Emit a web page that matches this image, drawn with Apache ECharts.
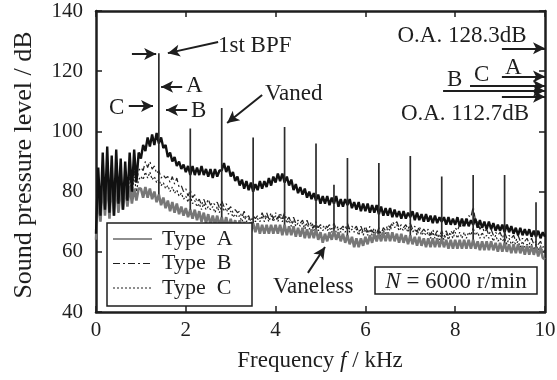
<!DOCTYPE html>
<html>
<head>
<meta charset="utf-8">
<script src="https://cdn.jsdelivr.net/npm/echarts@6/dist/echarts.min.js"></script>
<style>
  html, body { margin: 0; padding: 0; background: #fff; }
  #chart { width: 557px; height: 380px; }
</style>
</head>
<body>
<div id="chart"></div>
<script>
// spectra sampled every 0.05 kHz, 0 .. 10 kHz (dB)
const freqStep = 0.05;

const typeA = [
  66, 88, 72, 93, 74, 95, 73, 92, 72, 94, 76, 91, 74, 90, 77, 93, 80, 94, 83, 93,
  91, 95.5, 93.5, 98, 95, 99, 95.5, 99.5, 96, 98, 94.5, 95.5, 91.5, 93, 90, 91.5, 88.5, 90, 87.5, 89,
  86.5, 88.5, 85.5, 88.5, 85.5, 88, 85.5, 88.5, 85.5, 87.5, 85, 87.5, 84.5, 87.5, 85, 87, 87, 89.5, 86.5, 88.5,
  85, 86.5, 83.5, 85, 82, 84, 81, 83.5, 80.5, 83, 80, 82.5, 80.5, 83.5, 81, 83.5, 81.5, 84.5, 82, 85,
  83, 86, 83.5, 86, 83, 85, 82, 84, 80.5, 82.5, 79.5, 81.5, 79, 81, 78, 80, 77.5, 79.5, 77, 79,
  76, 78.5, 76, 78.5, 75.5, 78, 76, 78.5, 75, 77.5, 75, 77.5, 75.5, 77.5, 74.5, 76.5, 74, 76.5, 73.5, 76,
  73.5, 76, 73, 75.5, 73, 75.5, 72.5, 75, 72, 74.5, 72, 74.5, 71.5, 74, 71.5, 73.5, 71, 73.5, 71, 73,
  71.5, 73.5, 70.5, 73, 70.5, 72.5, 70, 72.5, 70, 72, 69.5, 72, 69.5, 71.5, 70, 71.5, 69, 71.5, 69, 71,
  69, 71.5, 68.5, 71, 68.5, 71, 68.5, 70.5, 69, 71, 68, 70.5, 68, 70, 67.5, 70, 67.5, 69.5, 67, 69,
  67, 69, 66.5, 69, 66.5, 68.5, 66, 68, 65.5, 68, 65.5, 67.5, 65.5, 67.5, 65, 67, 65, 67, 64.5, 66.5,
  65
];

const typeB = [
  68, 84, 72, 89, 75, 90, 74, 88, 76, 87, 75, 86, 77, 87, 79, 88, 81, 87, 83, 87,
  88, 87, 90, 88, 90, 87.5, 88.5, 86, 87, 84.5, 85.5, 84.5, 85, 83, 85, 82.5, 84.5, 81.5, 82, 80,
  81, 78.5, 80.5, 78, 79, 76.5, 77.5, 75.5, 77.5, 75.5, 77.5, 75.5, 76.5, 75.5, 76.5, 74.5, 77, 75, 76, 74,
  75, 73, 74, 73, 73.5, 71.5, 73.5, 71, 72, 70, 72, 71, 72, 71, 73, 71, 73, 71, 73, 71,
  73, 71, 73, 71, 73, 70.5, 71.5, 69.5, 71.5, 69.5, 70.5, 69.5, 70.5, 68.5, 70.5, 68.5, 70, 68, 70, 68,
  69, 68, 69, 68, 69, 67.5, 69.5, 67.5, 68.5, 67.5, 68.5, 67.5, 69.5, 67.5, 68.5, 67.5, 68.5, 66.5, 68.5, 66.5,
  68.5, 66.5, 68.5, 66.5, 68, 66, 68, 66, 68, 67, 69, 68, 70, 69, 70, 68, 69, 68, 69, 67.5,
  69.5, 67.5, 68.5, 66.5, 68.5, 66.5, 67.5, 66.5, 67.5, 65.5, 67.5, 65.5, 67, 65, 67, 65, 67, 65, 67, 66,
  68, 67, 69, 68, 70, 69.5, 72, 71.5, 75, 70.5, 70, 67.5, 68.5, 66.5, 67.5, 65.5, 67.5, 65.5, 66.5, 65.5,
  66.5, 64.5, 66.5, 64.5, 65.5, 64.5, 65.5, 63.5, 65.5, 63.5, 64.5, 63.5, 64.5, 62.5, 64.5, 62.5, 63.5, 62.5, 63.5, 61.5,
  62
];

const typeC = [
  66, 81, 70, 86, 73, 87, 72, 85, 74, 84, 73, 83, 75, 84, 77, 85, 79, 85, 80, 84,
  85, 84, 86.5, 84.5, 86.5, 84, 85, 83, 84, 82, 83, 81, 82, 80, 81.5, 79.5, 80.5, 78.5, 79.5, 77.5,
  78.5, 76.5, 78.5, 76, 77, 75, 76, 74, 76, 74, 75, 74, 75, 73, 75, 73, 75.5, 73.5, 74.5, 72.5,
  73.5, 71.5, 72.5, 71.5, 72, 70, 72, 70, 71, 69, 71, 70, 71, 70, 72, 70, 72, 70, 72, 70,
  72, 70, 72, 70, 72, 69.5, 70.5, 68.5, 70.5, 68.5, 69.5, 68.5, 69.5, 67.5, 69.5, 67.5, 69, 67, 69, 67,
  68, 67, 68, 67, 68, 66.5, 68.5, 66.5, 67.5, 66.5, 67.5, 66.5, 68.5, 66.5, 67.5, 66.5, 67.5, 65.5, 67.5, 65.5,
  67.5, 65.5, 67.5, 65.5, 67, 65, 67, 65, 67, 66, 68, 67, 69, 68, 69, 67, 68, 67, 68, 66.5,
  68.5, 66.5, 67.5, 65.5, 67.5, 65.5, 66.5, 65.5, 66.5, 64.5, 66.5, 64.5, 66, 64, 66, 64, 66, 64, 66, 64.5,
  66.5, 64.5, 66.5, 64.5, 66.5, 64.5, 66.5, 65.5, 68, 65.5, 66.5, 64.5, 66.5, 64.5, 65.5, 64.5, 65.5, 63.5, 65.5, 63.5,
  64.5, 63.5, 64.5, 62.5, 64.5, 62.5, 63.5, 62.5, 63.5, 61.5, 63.5, 61.5, 62.5, 61.5, 62.5, 60.5, 62.5, 60.5, 62, 60,
  60.5
];

const vaneless = [
  64, 80, 70, 84, 72, 85, 71, 84, 72, 83, 73, 82, 74, 82, 75, 82, 76, 81, 77, 81,
  81, 78, 81.5, 78, 81, 77.5, 80, 76.5, 79, 75.5, 78, 74.5, 77, 73.5, 76.5, 73, 76, 72.5, 75, 72,
  74.5, 71.5, 74, 71, 74, 70.5, 73.5, 70, 73, 69.5, 72.5, 69, 72, 69, 72, 68.5, 71.5, 68.5, 71.5, 68,
  71, 68, 70.5, 67.5, 70.5, 67, 70, 66.5, 69.5, 66.5, 69.5, 66.5, 69.5, 66, 69, 66, 69, 66, 69, 66,
  69, 66, 69, 65.5, 69, 65.5, 68.5, 65.5, 68.5, 65, 68, 65, 68, 64.5, 67.5, 64.5, 67.5, 64.5, 67.5, 64,
  66.5, 63, 66, 63.5, 66.5, 64, 67, 64, 66.5, 63.5, 66, 63, 65.5, 62.5, 65, 61.5, 64.5, 61.5, 64.5, 62,
  65, 62.5, 65.5, 63, 66, 63.5, 66, 63.5, 66.5, 63.5, 66.5, 63.5, 66.5, 63.5, 66, 63, 66, 63, 65.5, 62.5,
  65.5, 62.5, 65, 62, 65, 62, 64.5, 61.5, 64.5, 61.5, 64.5, 61.5, 64.5, 61.5, 64.5, 61.5, 64, 61, 64, 61,
  64, 61, 64, 61, 64, 61, 64, 61, 64, 61, 63.5, 60.5, 63.5, 60.5, 63.5, 60.5, 63.5, 60.5, 63, 60,
  63, 60, 63, 60, 62.5, 59.5, 62.5, 59.5, 62.5, 59.5, 62, 59, 62, 59, 62, 59, 61.5, 58.5, 61.5, 58,
  57.5
];

// blade passing tones (kHz, dB)
const peakFreqs = [1.4, 2.1, 2.8, 3.5, 4.2, 4.9, 5.3, 5.6, 6.3, 7.0, 7.7, 8.4, 9.1, 9.8];
const peakLevels = [126, 101, 107.8, 98, 101.5, 96, 82.3, 91.2, 89.5, 91.8, 85, 85.5, 85.5, 76.5];

// overall level arrows at right edge
const oaLevels = [127.6, 118.2, 115.1, 113.5, 111.5];
const oaStarts = [9.04, 9.04, 8.33, 7.73, 9.04];

// annotation arrows [from, to] in (kHz, dB)
const noteArrows = [
  [[2.72, 129.7], [1.60, 126.0]],
  [[0.80, 125.7], [1.34, 125.7]],
  [[1.92, 114.8], [1.45, 114.8]],
  [[2.03, 107.1], [1.56, 107.1]],
  [[0.73, 108.4], [1.27, 108.4]],
  [[3.70, 112.1], [2.92, 102.8]],
  [[4.72, 53.0], [5.10, 61.6]]
];

const legendNames = ['Type  A', 'Type  B', 'Type  C'];

const serif = '"Liberation Serif", "Times New Roman", serif';
const ink = '#1e1e1e';

const toPairs = (arr) => arr.map((v, i) => [Math.round(i * freqStep * 100) / 100, v]);

const peakData = [];
peakFreqs.forEach((f, k) => {
  const i = Math.round(f / freqStep);
  peakData.push([f, vaneless[i]], [f, peakLevels[k]], [f, '-']);
});

const arrowLines = noteArrows.map(([a, b]) => [{ coord: a }, { coord: b }]);
oaLevels.forEach((lv, k) => arrowLines.push([{ coord: [oaStarts[k], lv] }, { coord: [10, lv] }]));

const txt = (x, y, text, extra) => ({
  type: 'text', x, y, z: 50,
  style: Object.assign({
    text, fontSize: 23, fontFamily: serif, fill: ink,
    align: 'left', verticalAlign: 'middle'
  }, extra)
});

// hand-drawn legend box (line samples keep the dash patterns)
const legendDash = [null, [7, 3, 2, 3], [2, 2]];
const legendGraphics = [{
  type: 'rect', z: 49,
  shape: { x: 107, y: 223, width: 145, height: 83 },
  style: { fill: '#fff', stroke: ink, lineWidth: 1.5 }
}];
legendNames.forEach((n, k) => {
  const y = 239 + k * 24.5;
  legendGraphics.push({
    type: 'line', z: 50,
    shape: { x1: 113, y1: y, x2: 152, y2: y },
    style: { stroke: ink, lineWidth: 1.2, lineDash: legendDash[k] }
  });
  legendGraphics.push(txt(162, y, n, { fontSize: 22 }));
});

const chart = echarts.init(document.getElementById('chart'));

const axisCommon = {
  type: 'value',
  axisLine: { show: true, onZero: false, lineStyle: { color: ink, width: 2.5 } },
  axisTick: { show: true, inside: true, length: 6, lineStyle: { color: ink, width: 1.5 } },
  splitLine: { show: false }
};

chart.setOption({
  animation: false,
  backgroundColor: '#fff',
  grid: { left: 96, right: 12, top: 11, bottom: 68, outerBoundsMode: 'none' },
  xAxis: [
    Object.assign({}, axisCommon, {
      position: 'bottom', min: 0, max: 10, interval: 2,
      axisLabel: { color: ink, fontSize: 21, fontFamily: serif, margin: 8 }
    }),
    Object.assign({}, axisCommon, {
      position: 'top', min: 0, max: 10, interval: 2, axisLabel: { show: false }
    })
  ],
  yAxis: [
    Object.assign({}, axisCommon, {
      position: 'left', min: 40, max: 140, interval: 20,
      axisLabel: { color: ink, fontSize: 21, fontFamily: serif, margin: 13 }
    }),
    Object.assign({}, axisCommon, {
      position: 'right', min: 40, max: 140, interval: 20, axisLabel: { show: false }
    })
  ],
  series: [
    {
      name: 'Type B', type: 'line', symbol: 'none', data: toPairs(typeB),
      lineStyle: { color: '#222', width: 1.2, type: [7, 3, 2, 3] },
      emphasis: { disabled: true }
    },
    {
      name: 'Type C', type: 'line', symbol: 'none', data: toPairs(typeC),
      lineStyle: { color: '#222', width: 1.2, type: [2, 2] },
      emphasis: { disabled: true }
    },
    {
      name: 'Vaneless', type: 'line', symbol: 'none', data: toPairs(vaneless),
      lineStyle: { color: '#777', width: 2.6 },
      emphasis: { disabled: true }
    },
    {
      name: 'Type A', type: 'line', symbol: 'none', data: toPairs(typeA),
      lineStyle: { color: '#111', width: 2.4 },
      emphasis: { disabled: true }
    },
    {
      name: 'peaks', type: 'line', symbol: 'none', data: peakData,
      lineStyle: { color: '#2c2c2c', width: 1.7 },
      emphasis: { disabled: true },
      markLine: {
        silent: true,
        symbol: ['none', 'arrow'],
        symbolSize: [9, 12],
        label: { show: false },
        lineStyle: { color: ink, width: 2, type: 'solid' },
        emphasis: { disabled: true },
        data: arrowLines
      }
    }
  ],
  graphic: [
    txt(218, 46, '1st BPF'),
    txt(186, 86, 'A'),
    txt(191, 111, 'B'),
    txt(109, 108, 'C'),
    txt(265, 94, 'Vaned'),
    txt(462, 36, 'O.A. 128.3dB', { align: 'center' }),
    txt(505, 68, 'A'),
    txt(474, 75, 'C'),
    txt(447, 80, 'B'),
    txt(465, 114, 'O.A. 112.7dB', { align: 'center' }),
    txt(273, 287, 'Vaneless'),
    {
      type: 'rect', z: 49,
      shape: { x: 375, y: 267, width: 162, height: 27 },
      style: { fill: '#fff', stroke: ink, lineWidth: 1.5 }
    },
    txt(456, 282, '{i|N} = 6000 r/min', {
      align: 'center',
      rich: { i: { fontStyle: 'italic', fontSize: 23, fontFamily: serif, fill: ink } }
    }),
    txt(320, 361, 'Frequency {i|f} / kHz', {
      align: 'center', fontSize: 23,
      rich: { i: { fontStyle: 'italic', fontSize: 23, fontFamily: serif, fill: ink } }
    }),
    Object.assign(txt(24, 165, 'Sound pressure level / dB', { align: 'center', fontSize: 26 }), {
      rotation: Math.PI / 2
    })
  ].concat(legendGraphics)
});
</script>
</body>
</html>
